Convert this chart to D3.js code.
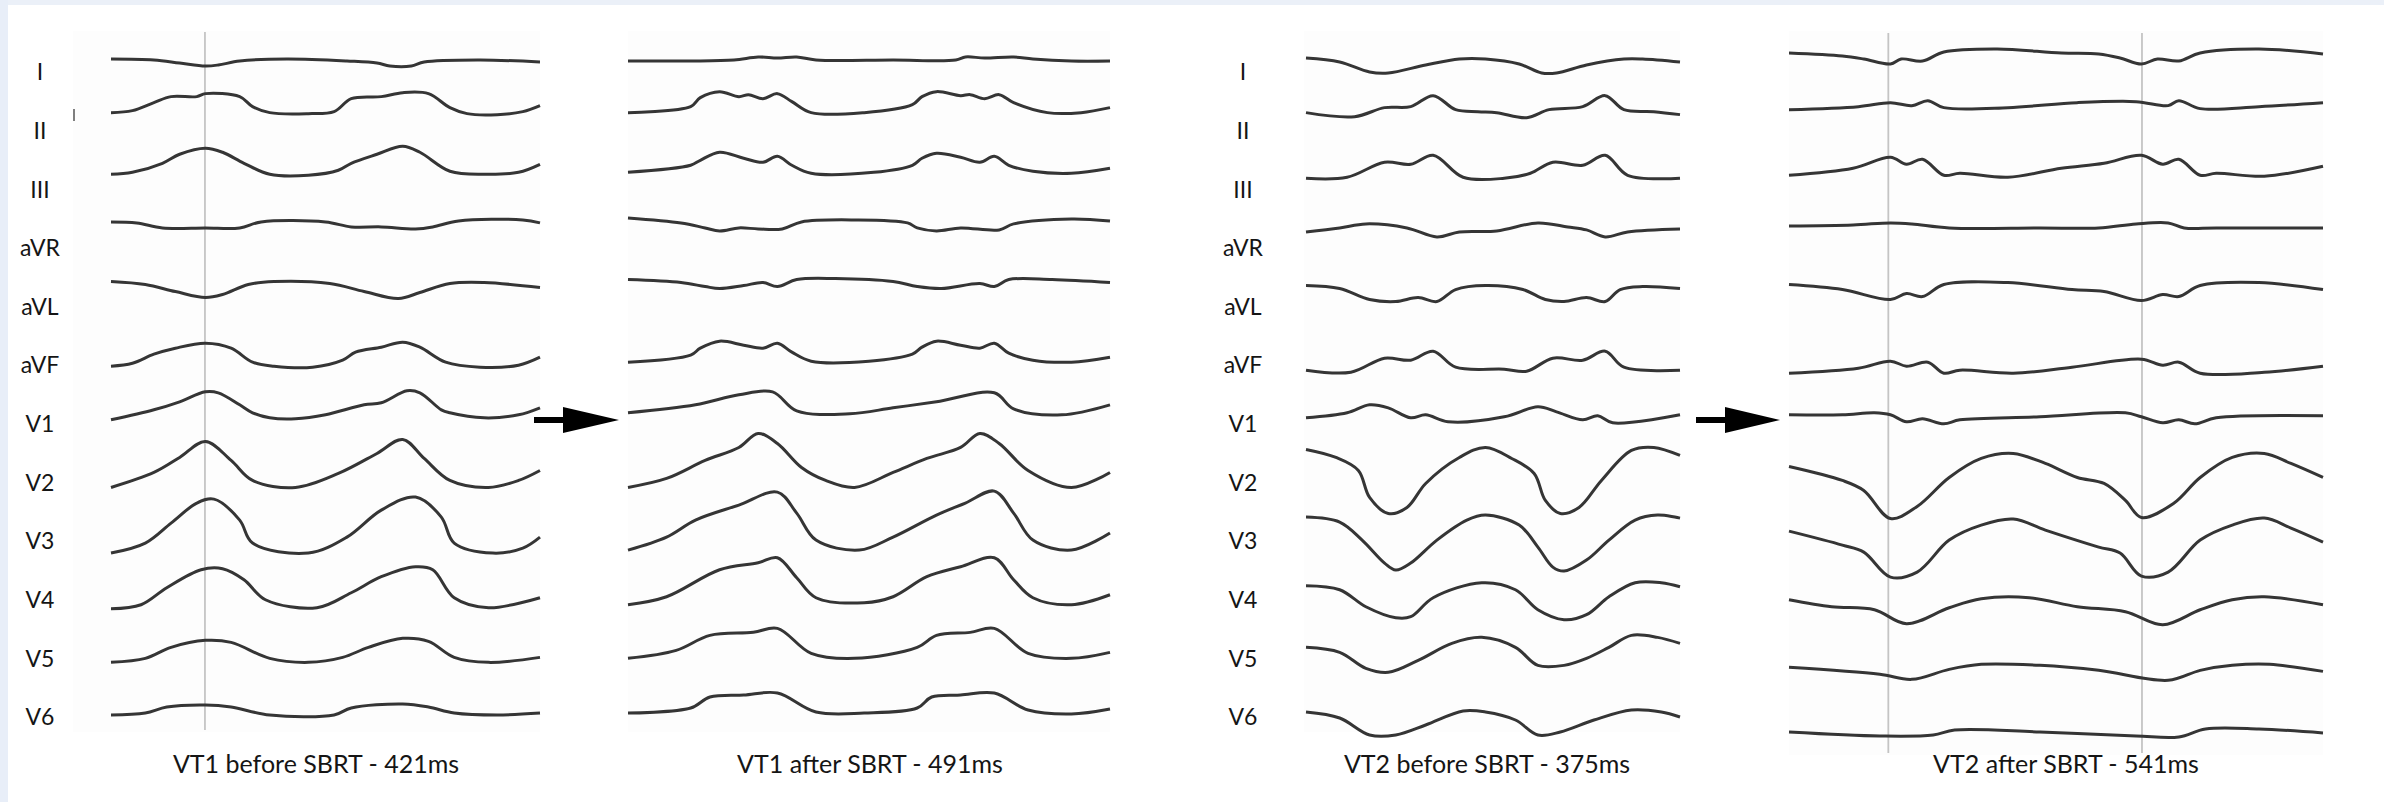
<!DOCTYPE html>
<html>
<head>
<meta charset="utf-8">
<script src="https://cdn.jsdelivr.net/npm/d3@7"></script>
<style>
  body { margin: 0; background: #ffffff; }
  svg { display: block; }
  .leadLabel { font-family: Lato, "Open Sans", sans-serif; font-size: 23px; fill: #151515; }
  .caption { font-family: Lato, "Open Sans", sans-serif; font-size: 25px; fill: #151515; }
</style>
</head>
<body>
<div id="chart"></div>
<script>
// lead names, one row each
var leads = ["I", "II", "III", "aVR", "aVL", "aVF", "V1", "V2", "V3", "V4", "V5", "V6"];

// captions under each strip
var captions = ["VT1 before SBRT - 421ms", "VT1 after SBRT - 491ms", "VT2 before SBRT - 375ms", "VT2 after SBRT - 541ms"];

// traces: [time (% of strip), amplitude], one array per lead
var vt1Before = [
  [[0,13],[10,12],[16,9],[22,6],[25,7],[30,11],[41,13],[55,11],[62,9],[65,6],[70,6],[73,10],[86,12],[100,10]],
  [[0,18],[5,20],[10,28],[14,34],[20,34],[22,37],[30,34],[33,24],[37,18],[46,17],[52,19],[56,32],[63,34],[68,38],[74,37],[79,23],[83,17],[90,16],[96,19],[100,25]],
  [[0,15],[5,17],[12,26],[16,35],[22,41],[26,37],[31,26],[37,15],[46,14],[53,19],[56,26],[62,35],[68,43],[72,37],[79,18],[87,15],[95,17],[100,25]],
  [[0,26],[6,25],[12,20],[22,20],[30,20],[35,26],[50,26],[56,21],[63,21],[71,19],[75,21],[81,27],[96,28],[100,25]],
  [[0,25],[8,22],[15,15],[22,9],[26,12],[32,22],[38,25],[51,23],[59,15],[67,8],[72,14],[79,23],[87,24],[100,19]],
  [[0,-1],[5,2],[10,11],[15,17],[22,22],[28,17],[33,3],[38,-1],[47,-2],[54,5],[57,13],[63,18],[68,23],[72,18],[78,3],[86,-2],[95,0],[100,8]],
  [[0,4],[10,14],[16,22],[22,32],[25,31],[30,19],[33,11],[37,6],[43,5],[50,9],[59,19],[63,21],[69,33],[72,31],[77,14],[79,11],[87,6],[95,9],[100,16]],
  [[0,-5],[10,10],[16,25],[22,41],[28,22],[33,2],[43,-5],[53,9],[62,29],[68,43],[73,24],[79,2],[88,-5],[95,2],[100,12]],
  [[0,-12],[8,-2],[14,18],[20,38],[24,42],[30,21],[33,-2],[46,-12],[55,4],[63,31],[71,44],[77,24],[80,-2],[89,-12],[96,-7],[100,4]],
  [[0,-9],[7,-5],[13,12],[21,30],[26,31],[31,20],[36,0],[48,-8],[56,7],[63,23],[71,33],[75,30],[80,2],[88,-8],[100,2]],
  [[0,-4],[8,0],[14,11],[22,18],[28,16],[37,0],[46,-4],[54,1],[60,11],[68,20],[74,17],[80,1],[88,-4],[100,1]],
  [[0,2],[8,4],[13,10],[22,12],[28,10],[37,2],[52,2],[56,9],[68,13],[74,10],[80,4],[90,2],[100,4]]
];

var vt1After = [
  [[0,11],[13,11],[22,12],[27,15],[31,14],[35,15],[39,12],[55,12],[68,12],[70,15],[74,14],[80,15],[84,13],[92,11],[100,11]],
  [[0,18],[13,24],[15,33],[19,39],[23,34],[25,36],[28,32],[31,37],[34,29],[38,18],[49,18],[59,26],[61,34],[64,39],[69,35],[71,36],[74,32],[77,36],[80,28],[87,18],[94,18],[100,23]],
  [[0,17],[13,24],[15,29],[19,37],[24,31],[28,27],[31,33],[34,24],[38,16],[51,17],[59,24],[61,31],[64,36],[69,32],[73,27],[76,33],[79,24],[84,18],[92,16],[100,21]],
  [[0,30],[11,25],[16,20],[19,17],[23,20],[27,19],[32,19],[36,26],[47,28],[58,25],[60,20],[64,17],[69,20],[77,18],[80,24],[92,29],[100,27]],
  [[0,27],[11,24],[16,20],[19,18],[24,21],[28,24],[31,20],[35,27],[43,28],[55,25],[60,20],[65,18],[73,23],[76,20],[79,27],[88,27],[100,24]],
  [[0,3],[13,10],[15,17],[19,24],[24,20],[28,17],[31,22],[34,13],[38,4],[50,4],[59,11],[61,18],[64,24],[69,20],[73,17],[76,22],[79,12],[84,5],[92,3],[100,8]],
  [[0,11],[14,19],[23,29],[30,32],[35,13],[46,10],[55,16],[64,22],[76,31],[80,15],[90,9],[100,19]],
  [[0,-5],[8,4],[16,22],[23,35],[27,49],[31,39],[36,15],[41,2],[47,-5],[55,10],[62,24],[69,35],[73,49],[77,39],[83,12],[92,-5],[100,10]],
  [[0,-9],[8,4],[14,21],[23,36],[31,49],[35,28],[39,1],[48,-9],[55,4],[64,26],[70,38],[76,50],[80,28],[84,1],[92,-9],[100,8]],
  [[0,-5],[8,3],[19,30],[27,37],[31,42],[35,22],[39,2],[49,-3],[55,3],[62,23],[69,33],[76,42],[80,20],[84,2],[92,-5],[100,5]],
  [[0,0],[10,8],[17,23],[26,26],[31,30],[38,5],[47,0],[60,11],[64,23],[71,26],[76,30],[83,5],[92,0],[100,6]],
  [[0,4],[13,9],[17,20],[24,22],[31,24],[39,5],[49,4],[60,9],[63,20],[69,22],[76,24],[83,7],[92,3],[100,8]]
];

var vt2Before = [
  [[0,14],[9,10],[17,0],[22,-1],[32,7],[41,13],[48,13],[57,8],[63,-1],[67,-1],[75,7],[85,13],[90,13],[100,10]],
  [[0,18],[13,14],[21,23],[28,24],[34,35],[40,21],[46,19],[51,18],[59,13],[65,21],[74,24],[80,35],[85,21],[93,19],[100,16]],
  [[0,11],[11,12],[21,27],[28,25],[34,34],[42,12],[53,11],[60,16],[66,27],[74,24],[80,34],[86,14],[100,11]],
  [[0,16],[9,20],[16,24],[27,20],[35,11],[41,16],[51,17],[62,25],[70,21],[75,18],[80,11],[86,16],[100,19]],
  [[0,21],[9,18],[17,7],[24,5],[30,9],[35,5],[40,17],[48,21],[58,17],[64,7],[69,5],[75,9],[80,5],[84,17],[90,20],[100,18]],
  [[0,-5],[12,-7],[21,7],[28,5],[34,14],[40,-2],[53,-4],[59,-6],[66,7],[74,5],[80,14],[85,-2],[100,-5]],
  [[0,6],[11,11],[17,19],[22,16],[28,6],[32,9],[38,2],[53,7],[62,17],[67,12],[74,4],[78,8],[82,1],[100,9]],
  [[0,33],[8,25],[14,12],[17,-15],[22,-31],[27,-25],[32,-1],[41,25],[48,35],[55,24],[61,9],[64,-18],[68,-31],[73,-25],[79,2],[87,32],[93,35],[100,27]],
  [[0,24],[9,19],[15,1],[21,-22],[24,-29],[28,-22],[35,1],[43,21],[48,26],[57,16],[62,-6],[66,-26],[69,-30],[75,-19],[81,1],[88,21],[94,26],[100,23]],
  [[0,14],[9,10],[16,-7],[24,-18],[28,-17],[34,2],[47,17],[56,10],[62,-10],[69,-20],[75,-15],[81,3],[88,17],[95,17],[100,13]],
  [[0,11],[9,6],[16,-10],[22,-14],[30,-2],[39,15],[47,21],[56,11],[62,-7],[69,-7],[75,0],[81,11],[87,23],[94,21],[100,15]],
  [[0,5],[9,-1],[17,-18],[24,-18],[32,-8],[42,6],[48,5],[56,-3],[62,-18],[68,-15],[77,-3],[87,7],[95,5],[100,0]]
];

var vt2After = [
  [[0,19],[10,16],[14,13],[19,8],[21,13],[25,11],[29,20],[39,23],[51,19],[58,18],[62,14],[66,8],[69,13],[73,11],[77,19],[88,23],[100,18]],
  [[0,21],[13,24],[19,28],[23,25],[26,30],[29,23],[41,23],[54,28],[65,29],[71,25],[73,30],[77,22],[88,24],[100,28]],
  [[0,14],[12,21],[19,32],[22,25],[25,30],[29,14],[32,16],[41,12],[51,21],[59,26],[66,34],[70,25],[73,30],[77,14],[80,16],[89,13],[100,23]],
  [[0,22],[12,23],[19,25],[23,24],[30,20],[47,20],[58,20],[65,24],[71,25],[74,20],[80,20],[100,20]],
  [[0,22],[10,17],[19,7],[22,13],[25,10],[29,22],[41,24],[53,17],[59,15],[66,6],[70,12],[73,10],[77,21],[88,24],[100,17]],
  [[0,-8],[13,-3],[19,4],[22,-1],[26,3],[29,-8],[32,-5],[42,-8],[53,-2],[66,6],[70,0],[73,3],[77,-8],[89,-7],[100,-1]],
  [[0,9],[10,9],[16,11],[19,9],[22,2],[25,5],[29,0],[32,4],[47,7],[63,11],[66,7],[70,1],[73,4],[76,0],[80,6],[100,8]],
  [[0,16],[10,2],[14,-8],[19,-36],[24,-24],[30,5],[36,24],[42,29],[48,19],[54,5],[59,-1],[63,-18],[66,-35],[72,-21],[77,5],[83,25],[89,29],[94,19],[100,5]],
  [[0,10],[10,-4],[14,-11],[19,-36],[24,-31],[30,1],[36,16],[42,22],[48,11],[58,-6],[62,-12],[66,-35],[71,-31],[77,1],[83,16],[89,23],[94,13],[100,-1]],
  [[0,0],[8,-7],[16,-10],[22,-24],[30,-8],[36,1],[45,2],[54,-7],[63,-12],[70,-25],[77,-10],[83,0],[89,3],[100,-5]],
  [[0,-9],[17,-16],[23,-21],[30,-11],[36,-6],[47,-7],[58,-12],[71,-22],[77,-12],[83,-7],[90,-6],[100,-13]],
  [[0,-15],[17,-19],[27,-18],[31,-13],[47,-15],[65,-19],[73,-20],[78,-12],[88,-12],[100,-16]]
];

// vertical reference lines (time, % of strip) per panel
var guides = [[21.9], [], [], [18.6, 66.1]];

// page size
var svgWidth = 2384;
var svgHeight = 802;

// layout of the four strips
var panels = [
  { traces: vt1Before, x0: 111, x1: 540, bg: 73, labels: 40, guideTop: 32, guideBottom: 730, capX: 316 },
  { traces: vt1After, x0: 628, x1: 1110, bg: 628, labels: null, guideTop: 32, guideBottom: 730, capX: 870 },
  { traces: vt2Before, x0: 1306, x1: 1680, bg: 1304, labels: 1243, guideTop: 32, guideBottom: 730, capX: 1487 },
  { traces: vt2After, x0: 1789, x1: 2323, bg: 1789, labels: null, guideTop: 33, guideBottom: 753, capX: 2066 }
];

var svg = d3.select("#chart")
  .append("svg")
  .attr("width", svgWidth)
  .attr("height", svgHeight);

// pale blue frame along top and left edges
svg.append("rect").attr("x", 0).attr("y", 0).attr("width", svgWidth).attr("height", 5).attr("fill", "#ebf0f8");
svg.append("rect").attr("x", 0).attr("y", 0).attr("width", 8).attr("height", svgHeight).attr("fill", "#e8eef8");

// row positions for the 12 leads
var rowScale = d3.scalePoint()
  .domain(leads)
  .range([72, 717]);

// amplitude -> vertical offset (up is positive)
var ampScale = d3.scaleLinear()
  .domain([-50, 50])
  .range([50, -50]);

panels.forEach(function(p, pi) {
  var xScale = d3.scaleLinear()
    .domain([0, 100])
    .range([p.x0, p.x1]);

  var g = svg.append("g").attr("class", "panel");

  // faint scanned-paper background
  g.append("rect")
    .attr("x", p.bg)
    .attr("y", 31)
    .attr("width", p.x1 - p.bg)
    .attr("height", p.guideBottom - 29)
    .attr("fill", "#fdfdfd");

  // grey vertical markers
  g.selectAll("line.guide")
    .data(guides[pi])
    .enter()
    .append("line")
    .attr("class", "guide")
    .attr("x1", d => xScale(d))
    .attr("x2", d => xScale(d))
    .attr("y1", p.guideTop)
    .attr("y2", p.guideBottom)
    .attr("stroke", "#c4c4c4")
    .attr("stroke-width", 1.8);

  // ECG traces
  g.selectAll("path.trace")
    .data(p.traces)
    .enter()
    .append("path")
    .attr("class", "trace")
    .attr("d", function(d, i) {
      var line = d3.line()
        .x(v => xScale(v[0]))
        .y(v => rowScale(leads[i]) + ampScale(v[1]))
        .curve(d3.curveCatmullRom.alpha(0.5));
      return line(d);
    })
    .attr("fill", "none")
    .attr("stroke", "#353535")
    .attr("stroke-width", 3)
    .attr("stroke-linejoin", "round");

  // lead names
  if (p.labels !== null) {
    g.selectAll("text.leadLabel")
      .data(leads)
      .enter()
      .append("text")
      .attr("class", "leadLabel")
      .attr("x", p.labels)
      .attr("y", d => rowScale(d))
      .attr("dy", "0.36em")
      .attr("text-anchor", "middle")
      .text(d => d);
  }

  // caption
  g.append("text")
    .attr("class", "caption")
    .attr("x", p.capX)
    .attr("y", 773)
    .attr("text-anchor", "middle")
    .text(captions[pi]);
});

// small mark at the edge of the first strip
svg.append("line")
  .attr("x1", 74).attr("x2", 74)
  .attr("y1", 109).attr("y2", 121)
  .attr("stroke", "#555")
  .attr("stroke-width", 1.5);

// arrows between before / after strips
var arrows = [[534, 563, 619], [1696, 1725, 1780]];
arrows.forEach(function(a) {
  svg.append("rect")
    .attr("x", a[0])
    .attr("y", 417)
    .attr("width", a[1] - a[0] + 2)
    .attr("height", 6)
    .attr("fill", "#000");
  svg.append("path")
    .attr("d", d3.line()([[a[1], 407], [a[2], 420], [a[1], 433]]) + "Z")
    .attr("fill", "#000");
});
</script>
</body>
</html>
